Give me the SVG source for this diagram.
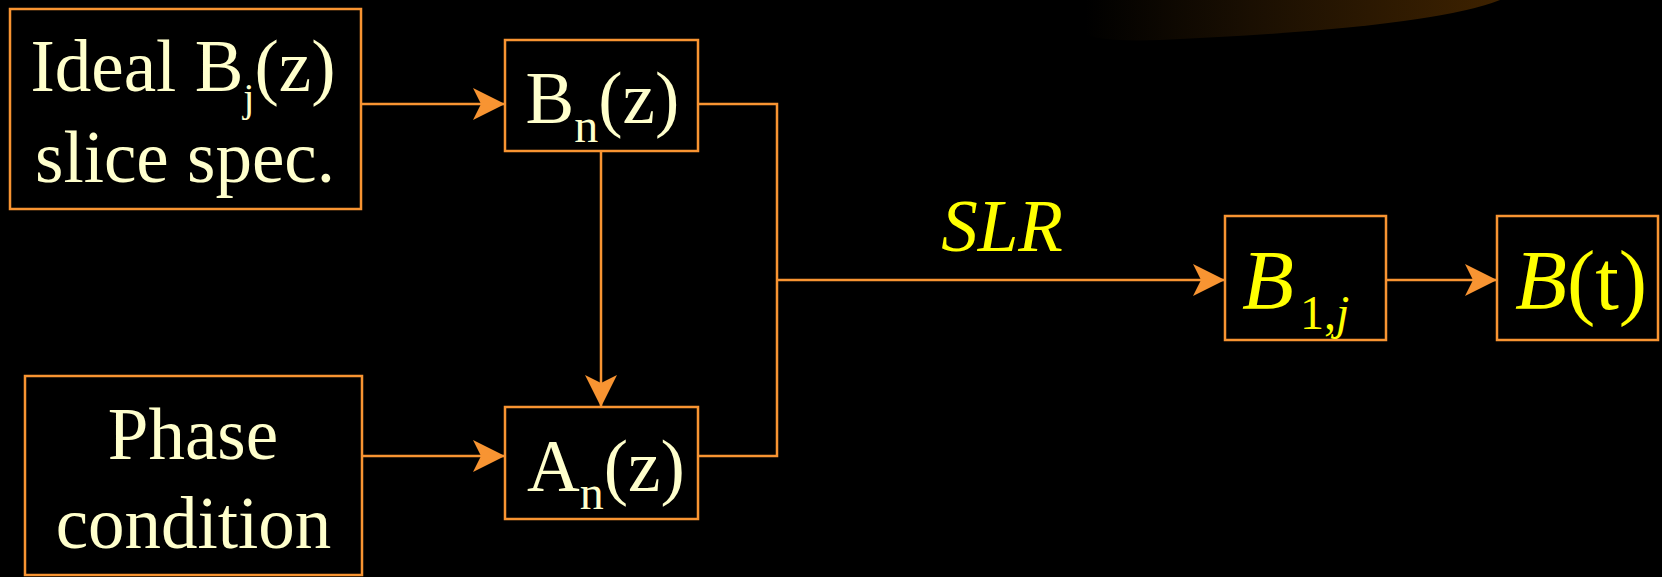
<svg xmlns="http://www.w3.org/2000/svg" width="1662" height="577" viewBox="0 0 1662 577">
<style>
.box{fill:#000;stroke:#F89432;stroke-width:2.5}
.con{fill:none;stroke:#F89432;stroke-width:2.5}
.t{font-family:"Liberation Serif","Times New Roman",serif;font-size:73px;fill:#FFFFCC}
.y{font-family:"Liberation Serif","Times New Roman",serif;fill:#FFFF00}
</style>
<defs>
<marker id="arr" markerUnits="userSpaceOnUse" markerWidth="32" markerHeight="32" viewBox="0 -16 32 32" refX="32" refY="0" orient="auto">
<path d="M0,-16 L32,0 L0,16 L8,0 Z" fill="#F89432"/>
</marker>
<linearGradient id="glow" gradientUnits="userSpaceOnUse" x1="1085" y1="0" x2="1500" y2="0">
<stop offset="0" stop-color="#000"/>
<stop offset="0.4" stop-color="#1a0f02"/>
<stop offset="1" stop-color="#3e2200"/>
</linearGradient>
</defs>
<rect width="1662" height="577" fill="#000"/>
<path d="M1085 0 L1500 0 Q1430 28 1160 40 Q1100 42 1085 34 Z" fill="url(#glow)"/>
<g id="connectors">
<line class="con" x1="362" y1="104" x2="505" y2="104" marker-end="url(#arr)"/>
<line class="con" x1="362" y1="456" x2="505" y2="456" marker-end="url(#arr)"/>
<line class="con" x1="601" y1="151" x2="601" y2="407" marker-end="url(#arr)"/>
<polyline class="con" points="698,104 777,104 777,456 698,456"/>
<line class="con" x1="777" y1="280" x2="1225" y2="280" marker-end="url(#arr)"/>
<line class="con" x1="1386" y1="280" x2="1497" y2="280" marker-end="url(#arr)"/>
<text class="y" x="1002" y="251" font-size="73" font-style="italic" text-anchor="middle">SLR</text>
</g>
<g id="ideal">
<rect class="box" x="10" y="9" width="351" height="200"/>
<text class="t" x="30.5" y="90.7">Ideal B<tspan font-size="40" dy="20">j</tspan><tspan dy="-20">(z)</tspan></text>
<text class="t" x="185" y="181.7" text-anchor="middle">slice spec.</text>
</g>
<g id="phase">
<rect class="box" x="25" y="376" width="337" height="199"/>
<text class="t" x="193" y="459.3" text-anchor="middle">Phase</text>
<text class="t" x="193.5" y="548.3" text-anchor="middle">condition</text>
</g>
<g id="bn">
<rect class="box" x="505" y="40" width="193" height="111"/>
<text class="t" x="525.5" y="122.7">B<tspan font-size="48" dy="19">n</tspan><tspan dy="-19">(z)</tspan></text>
</g>
<g id="an">
<rect class="box" x="505" y="407" width="193" height="112"/>
<text class="t" x="527" y="491">A<tspan font-size="48" dy="18">n</tspan><tspan dy="-18">(z)</tspan></text>
</g>
<g id="b1j">
<rect class="box" x="1225" y="216" width="161" height="124"/>
<text class="y" font-size="85" x="1242" y="309"><tspan font-style="italic">B</tspan><tspan font-size="48" x="1300" dy="20">1,<tspan font-style="italic">j</tspan></tspan></text>
</g>
<g id="bt">
<rect class="box" x="1497" y="216" width="161" height="124"/>
<text class="y" font-size="85" x="1515" y="309"><tspan font-style="italic">B</tspan>(t)</text>
</g>
</svg>
